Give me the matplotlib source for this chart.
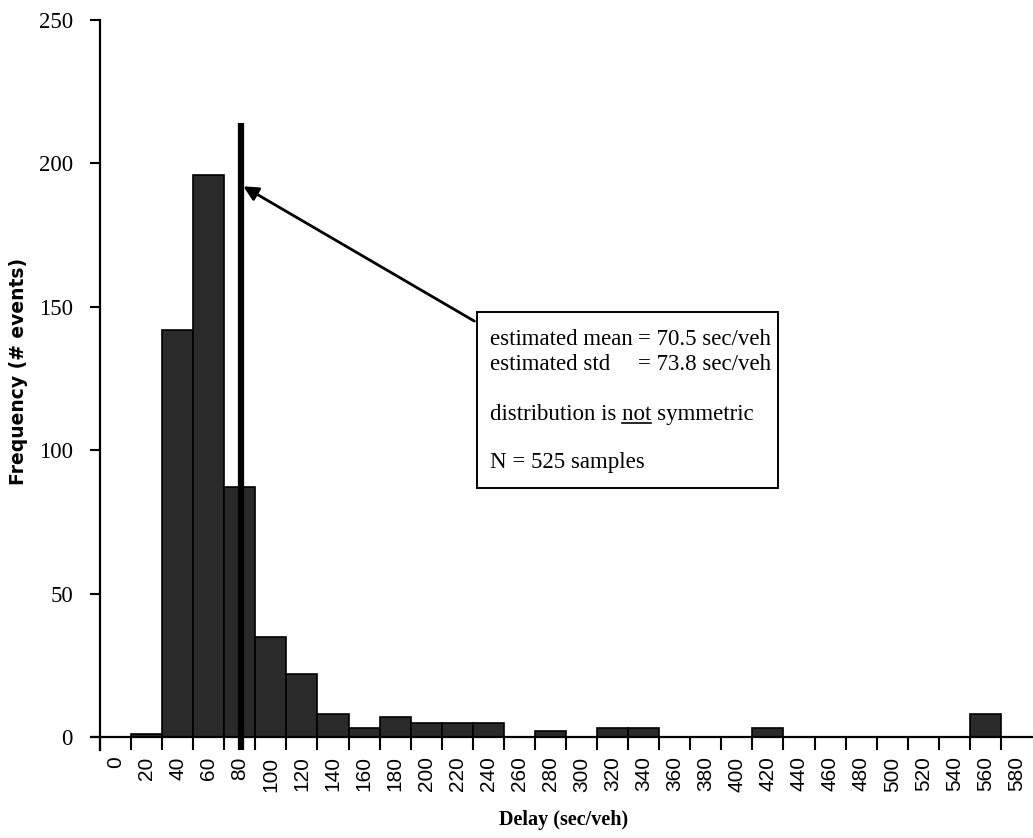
import matplotlib
matplotlib.use("Agg")
import matplotlib.pyplot as plt
from matplotlib.patches import Rectangle
import numpy as np

# histogram bins, labelled by their upper edge (sec/veh)
bin_labels = list(range(0, 600, 20))
counts = [0, 1, 142, 196, 87, 35, 22, 8, 3, 7, 5, 5, 5, 0, 2, 0,
          3, 3, 0, 0, 0, 3, 0, 0, 0, 0, 0, 0, 8, 0]
BIN_W = 20
MEAN = 70.5
MEAN_LINE_TOP = 214

box_lines_left = ["estimated mean", "estimated std"]
box_lines_right = ["= 70.5 sec/veh", "= 73.8 sec/veh"]
sym_text = "distribution is not symmetric"
n_text = "N = 525 samples"

SERIF = "Liberation Serif"
SANS = "Liberation Sans"

W, H = 1033, 838
fig = plt.figure(figsize=(W / 100, H / 100), dpi=100)
ax = fig.add_axes([100 / W, 1 - 737 / H, 932 / W, (737 - 20) / H])

lefts = np.array(bin_labels) - BIN_W
ax.bar(lefts, counts, width=BIN_W, align="edge", color="#2a2a2a",
       edgecolor="black", linewidth=1.2, zorder=2)

ax.set_xlim(-20, 580)
ax.set_ylim(0, 250)

# ticks at bin edges, labels centred in the bins
ax.set_xticks(lefts)
ax.set_xticklabels([])
ax.set_xticks(np.array(bin_labels) - BIN_W / 2, minor=True)
ax.set_xticklabels([str(v) for v in bin_labels], minor=True, rotation=90,
                   family=SANS, fontsize=15)
ax.tick_params(axis="x", which="major", direction="out", length=9.5, width=1.5)
ax.tick_params(axis="x", which="minor", length=0, pad=14)

ax.set_yticks([0, 50, 100, 150, 200, 250])
ax.set_yticklabels(["0", "50", "100", "150", "200", "250"], family=SERIF,
                   fontsize=16.5)
ax.tick_params(axis="y", direction="out", length=7.5, width=1.5, pad=12)

for s in ["top", "right"]:
    ax.spines[s].set_visible(False)
ax.spines["left"].set_linewidth(1.6)
ax.spines["bottom"].set_linewidth(1.6)
ax.spines["left"].set_bounds(-4.5, 250)
ax.spines["bottom"].set_bounds(-26, 580)

ax.set_xlabel("Delay (sec/veh)", family=SERIF, fontweight="bold",
              fontsize=14.5)
ax.set_ylabel("Frequency (# events)", family="DejaVu Sans",
              fontweight="bold", fontsize=13.5)
ax.xaxis.set_label_coords(0.497, -0.102)
ax.yaxis.set_label_coords(-0.077, 0.51)

# mean line
ax.vlines(MEAN, -4.5, MEAN_LINE_TOP, color="black", linewidth=4.5,
          clip_on=False, zorder=3)

# arrow from the text box to the mean line
ax.annotate("", xy=(MEAN + 1.8, 192), xytext=(221, 145),
            arrowprops=dict(arrowstyle="-|>", color="black", lw=2,
                            mutation_scale=22, shrinkA=0, shrinkB=0),
            zorder=4)

# text box
fig.add_artist(Rectangle((477 / W, 1 - 488 / H), (778 - 477) / W,
                         (488 - 312) / H, transform=fig.transFigure,
                         fill=False, edgecolor="black", linewidth=1.4))
fs = 16.5
x0 = 490 / W
x1 = 638 / W
for i, (a, b) in enumerate(zip(box_lines_left, box_lines_right)):
    yb = 1 - (345 + 25 * i) / H
    fig.text(x0, yb, a, family=SERIF, fontsize=fs, va="baseline")
    fig.text(x1, yb, b, family=SERIF, fontsize=fs, va="baseline")

yb3 = 1 - 420 / H
fig.text(x0, yb3, sym_text, family=SERIF, fontsize=fs, va="baseline")
fig.text(x0, 1 - 468 / H, n_text, family=SERIF, fontsize=fs, va="baseline")

# underline "not"
r = fig.canvas.get_renderer()
tmp1 = fig.text(0, 0, "distribution is not", family=SERIF, fontsize=fs)
tmp2 = fig.text(0, 0, "not", family=SERIF, fontsize=fs)
w1 = tmp1.get_window_extent(r).width
w2 = tmp2.get_window_extent(r).width
tmp1.remove()
tmp2.remove()
ux0 = x0 + (w1 - w2) / W
ux1 = x0 + w1 / W
fig.add_artist(plt.Line2D([ux0, ux1], [yb3 - 3 / H, yb3 - 3 / H],
                          transform=fig.transFigure, color="black", lw=1.2))

fig.savefig("out.png", dpi=100)
